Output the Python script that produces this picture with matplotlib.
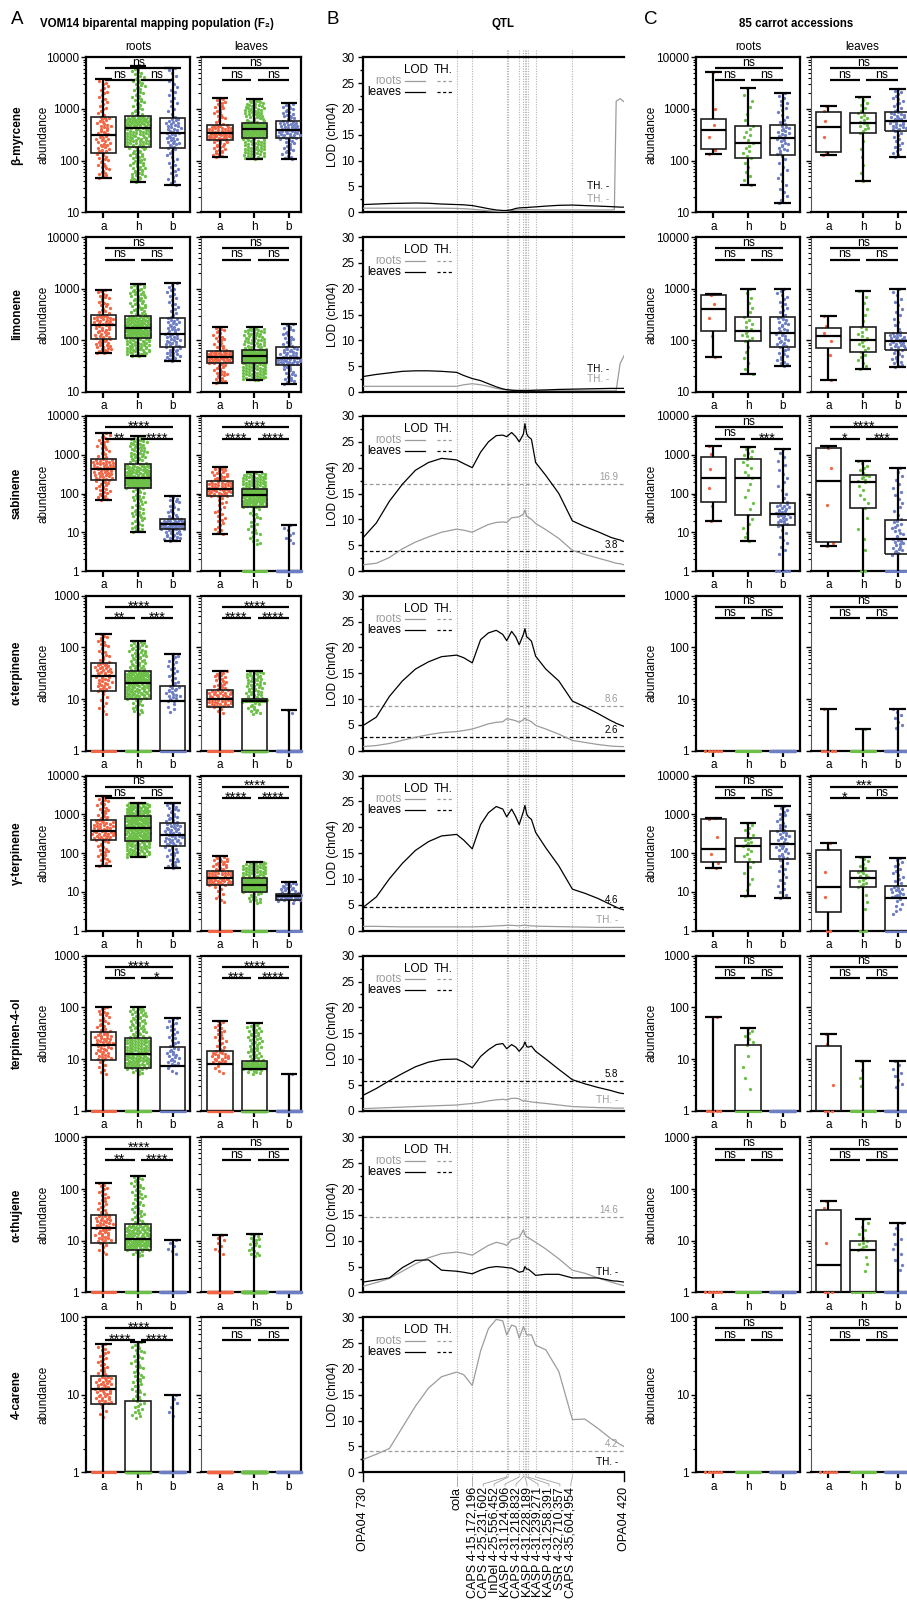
import numpy as np
import matplotlib
matplotlib.use("Agg")
import matplotlib.pyplot as plt
import matplotlib.transforms as mtransforms
from matplotlib.lines import Line2D
from matplotlib.patches import Rectangle
from matplotlib.ticker import LogLocator, FuncFormatter, NullFormatter, MultipleLocator

plt.rcParams['font.family'] = ['Liberation Sans', 'DejaVu Sans']
plt.rcParams['font.size'] = 8.3

# ------------------------------------------------------------------ data
COMPOUNDS = ["β-myrcene", "limonene", "sabinene", "α-terpinene",
             "γ-terpinene", "terpinen-4-ol", "α-thujene", "4-carene"]
GENOTYPES = ["a", "h", "b"]
Y_MIN = [10, 10, 1, 1, 1, 1, 1, 1]
Y_MAX = [10000, 10000, 10000, 1000, 10000, 1000, 1000, 100]
N_F2 = [85, 190, 75]          # group sizes, VOM14 F2
N_ACC = [6, 25, 54]           # group sizes, 85 accessions

# five-number summaries (min, q1, median, q3, max) for genotypes a, h, b
F2_ROOTS = [
    [(47, 140, 310, 710, 3800), (39, 185, 420, 720, 6800), (34, 175, 350, 660, 6300)],
    [(56, 104, 200, 315, 940), (50, 110, 172, 290, 1230), (40, 74, 134, 275, 1290)],
    [(70, 220, 430, 760, 3550), (10, 140, 245, 570, 3100), (6, 12, 16, 22, 85)],
    [(1, 14, 28, 50, 180), (1, 10, 20, 35, 130), (1, 1, 9, 18, 75)],
    [(45, 220, 380, 700, 2900), (80, 210, 430, 900, 2000), (40, 150, 300, 600, 2000)],
    [(1, 9.6, 19, 33, 102), (1, 6.6, 12.5, 26, 100), (1, 1, 7.4, 17, 63)],
    [(1, 9.2, 18, 32, 130), (1, 6.6, 11, 21, 178), (1, 1, 1, 1, 10.3)],
    [(1, 7.6, 11.8, 17.5, 45), (1, 1, 1, 8.2, 48), (1, 1, 1, 1, 10)],
]
F2_LEAVES = [
    [(118, 250, 340, 490, 1650), (108, 280, 415, 530, 1550), (108, 270, 390, 590, 1300)],
    [(15, 36, 47, 63, 185), (17, 36, 49, 66, 180), (14, 34, 45, 74, 205)],
    [(9, 85, 130, 210, 490), (1, 45, 90, 130, 350), (1, 1, 1, 1, 15)],
    [(1, 7, 10, 15, 35), (1, 1, 9, 10, 35), (1, 1, 1, 1, 6)],
    [(1, 15, 22, 35, 85), (1, 10, 15, 22, 60), (1, 6, 8, 9, 18)],
    [(1, 1, 8, 14, 55), (1, 1, 6.3, 9, 49), (1, 1, 1, 1, 5.1)],
    [(1, 1, 1, 1, 13), (1, 1, 1, 1, 13.5), (1, 1, 1, 1, 1)],
    [(1, 1, 1, 1, 1), (1, 1, 1, 1, 1), (1, 1, 1, 1, 1)],
]
ACC_ROOTS = [
    [(135, 170, 400, 650, 5200), (34, 110, 220, 460, 2500), (15, 130, 270, 490, 2000)],
    [(48, 150, 400, 750, 800), (22, 95, 150, 280, 1000), (32, 75, 140, 280, 1000)],
    [(20, 60, 250, 900, 1700), (5.8, 28, 250, 800, 1600), (1, 15, 29, 56, 1400)],
    [(1, 1, 1, 1, 1), (1, 1, 1, 1, 1), (1, 1, 1, 1, 1)],
    [(40, 60, 130, 750, 800), (8, 60, 150, 250, 600), (7, 70, 170, 380, 1600)],
    [(1, 1, 1, 1, 65), (1, 1, 1, 19, 40), (1, 1, 1, 1, 1)],
    [(1, 1, 1, 1, 1), (1, 1, 1, 1, 1), (1, 1, 1, 1, 1)],
    [(1, 1, 1, 1, 1), (1, 1, 1, 1, 1), (1, 1, 1, 1, 1)],
]
ACC_LEAVES = [
    [(130, 150, 450, 870, 1150), (40, 350, 530, 820, 1700), (115, 380, 580, 880, 2450)],
    [(17, 70, 120, 170, 300), (28, 60, 100, 180, 900), (30, 65, 95, 140, 1000)],
    [(4.5, 5.7, 210, 1500, 1700), (1, 43, 200, 300, 700), (1, 2.7, 6.6, 21, 450)],
    [(1, 1, 1, 1, 6.4), (1, 1, 1, 1, 2.6), (1, 1, 1, 1, 6.4)],
    [(1, 3, 13, 120, 180), (1, 13, 22, 35, 80), (1, 1, 7, 14, 75)],
    [(1, 1, 1, 18, 30), (1, 1, 1, 1, 9), (1, 1, 1, 1, 9)],
    [(1, 1, 3.4, 40, 59), (1, 1, 6.6, 9.8, 26), (1, 1, 1, 1, 22)],
    [(1, 1, 1, 1, 1), (1, 1, 1, 1, 1), (1, 1, 1, 1, 1)],
]
# significance labels: (a vs b, a vs h, h vs b)
NS3 = ("ns", "ns", "ns")
SIG_F2_ROOTS = [NS3, NS3, ("****", "**", "****"), ("****", "**", "***"), NS3,
                ("****", "ns", "*"), ("****", "**", "****"), ("****", "****", "****")]
SIG_F2_LEAVES = [NS3, NS3, ("****", "****", "****"), ("****", "****", "****"),
                 ("****", "****", "****"), ("****", "***", "****"), NS3, NS3]
SIG_ACC_ROOTS = [NS3, NS3, ("ns", "ns", "***"), NS3, NS3, NS3, NS3, NS3]
SIG_ACC_LEAVES = [NS3, NS3, ("****", "*", "***"), NS3, ("***", "*", "ns"), NS3, NS3, NS3]

# QTL: map position (% of chr04 linkage group) and LOD profiles
MAP_POS = [0, 5, 10, 15, 20, 25, 30, 35.8, 38.5, 41.8, 45, 48, 51, 53.5, 55.0, 56.9,
           58.5, 59.8, 61.4, 62.0, 62.7, 63.3, 64.5, 66.1, 70, 75, 80.2, 85, 90, 95,
           96.3, 97, 98.5, 100]
LOD_ROOTS = [
    [0.8, 0.8, 0.8, 0.8, 0.8, 0.8, 0.8, 0.75, 0.7, 0.6, 0.45, 0.3, 0.2, 0.15, 0.2, 0.35,
     0.45, 0.5, 0.5, 0.5, 0.5, 0.5, 0.5, 0.5, 0.45, 0.45, 0.45, 0.45, 0.45, 0.45,
     0.5, 21.5, 22.0, 21.4],
    [1.1, 1.1, 1.1, 1.1, 1.1, 1.1, 1.1, 1.1, 1.4, 1.6, 1.4, 1.1, 0.7, 0.5, 0.4, 0.35,
     0.3, 0.3, 0.3, 0.3, 0.3, 0.3, 0.3, 0.3, 0.3, 0.3, 0.3, 0.3, 0.3, 0.3,
     0.3, 0.3, 5.5, 7.0],
    [1.2, 1.5, 2.6, 4.3, 5.6, 6.6, 7.5, 8.1, 7.9, 7.5, 8.3, 9.0, 9.4, 9.5, 9.4, 10.3,
     10.4, 10.5, 11.0, 11.8, 10.6, 10.4, 10.0, 9.2, 8.0, 6.3, 4.0, 3.2, 2.5, 1.8,
     1.6, 1.5, 1.4, 1.2],
    [0.8, 1.0, 1.4, 2.0, 2.6, 3.1, 3.5, 3.7, 3.9, 4.2, 4.7, 5.2, 5.5, 5.6, 6.2, 6.0,
     5.8, 5.5, 6.0, 6.3, 6.0, 5.9, 5.6, 4.9, 4.2, 3.2, 2.0, 1.6, 1.2, 0.9,
     0.85, 0.85, 0.8, 0.8],
    [0.8, 0.8, 0.75, 0.7, 0.7, 0.7, 0.7, 0.7, 0.7, 0.7, 0.75, 0.8, 0.9, 0.95, 1.0, 1.0,
     0.95, 0.9, 1.0, 1.05, 0.95, 0.95, 0.9, 0.85, 0.8, 0.75, 0.7, 0.65, 0.6, 0.6,
     0.6, 0.6, 0.6, 0.6],
    [0.4, 0.5, 0.6, 0.7, 0.8, 0.9, 1.0, 1.1, 1.25, 1.4, 1.6, 1.9, 2.1, 2.2, 2.1, 2.4,
     2.4, 2.3, 1.8, 2.0, 1.85, 1.8, 1.7, 1.6, 1.4, 1.1, 0.8, 0.7, 0.6, 0.55,
     0.5, 0.5, 0.5, 0.5],
    [1.2, 1.9, 2.7, 4.1, 5.5, 6.7, 7.5, 7.8, 7.6, 7.2, 8.2, 9.1, 9.7, 9.4, 9.1, 10.2,
     10.4, 10.6, 12.1, 11.2, 10.7, 10.6, 10.2, 9.7, 8.4, 6.5, 4.3, 3.7, 2.8, 2.0,
     1.8, 1.7, 1.5, 1.3],
    [2.5, 3.5, 4.6, 8.7, 12.8, 16.3, 18.5, 19.4, 18.9, 16.8, 23.5, 27.8, 29.6, 29.3, 26.6, 28.5,
     28.2, 26.0, 28.2, 27.5, 26.6, 26.6, 26.6, 24.6, 23.7, 19.5, 10.2, 10.3, 8.5, 6.5,
     6.1, 5.9, 5.4, 5.0],
]
LOD_LEAVES = [
    [1.5, 1.6, 1.7, 1.75, 1.8, 1.75, 1.6, 1.5, 1.45, 1.3, 1.0, 0.7, 0.45, 0.35, 0.35, 0.5,
     0.75, 0.85, 0.9, 0.9, 0.9, 0.95, 1.0, 1.05, 1.2, 1.35, 1.4, 1.3, 1.2, 1.1,
     1.05, 1.05, 1.0, 1.0],
    [3.0, 3.4, 3.7, 4.0, 4.1, 4.1, 4.0, 3.8, 3.2, 2.6, 2.2, 1.6, 1.0, 0.6, 0.45, 0.35,
     0.3, 0.3, 0.3, 0.3, 0.3, 0.3, 0.32, 0.35, 0.4, 0.5, 0.55, 0.6, 0.65, 0.7,
     0.7, 0.7, 0.7, 0.7],
    [6.5, 9.3, 13.5, 16.8, 19.5, 21.0, 21.8, 21.5, 20.8, 20.0, 23.0, 25.0, 26.2, 26.3, 26.0, 26.8,
     26.0, 25.0, 26.5, 28.5, 26.5, 26.0, 25.5, 21.0, 18.5, 15.0, 9.7, 8.6, 7.6, 6.5,
     6.3, 6.2, 6.0, 5.7],
    [4.9, 6.5, 10.5, 13.5, 15.8, 17.2, 18.2, 18.5, 18.0, 17.0, 21.5, 22.8, 23.3, 22.5, 21.3, 23.1,
     22.0, 20.5, 22.5, 23.6, 22.0, 21.8, 21.2, 18.3, 15.8, 13.5, 9.6, 8.5, 7.2, 5.8,
     5.5, 5.3, 5.0, 4.7],
    [4.5, 6.5, 10.0, 13.0, 15.5, 17.2, 18.3, 18.6, 17.5, 15.8, 20.5, 22.8, 24.0, 23.5, 22.0, 23.5,
     22.0, 20.5, 23.0, 24.2, 22.5, 22.0, 21.5, 19.0, 16.0, 12.5, 8.0, 7.2, 6.2, 5.0,
     4.7, 4.5, 4.2, 4.0],
    [3.0, 4.3, 5.8, 7.2, 8.5, 9.4, 9.9, 10.0, 9.4, 8.3, 10.5, 11.8, 12.8, 13.0, 12.0, 12.8,
     12.3, 11.5, 12.5, 13.3, 12.4, 12.3, 12.5, 11.5, 10.0, 8.0, 6.0, 5.2, 4.5, 3.9,
     3.7, 3.6, 3.4, 3.3],
    [2.0, 2.4, 2.8, 4.8, 6.2, 6.3, 4.3, 4.1, 3.9, 3.6, 4.3, 4.8, 5.0, 4.9, 4.8, 4.7,
     4.3, 3.9, 4.1, 5.0, 4.5, 4.5, 4.0, 3.3, 3.5, 3.5, 2.8, 2.8, 2.8, 2.3,
     2.2, 2.2, 2.1, 2.0],
    None,
]
TH_ROOTS = [None, None, 16.9, 8.6, None, None, 14.6, 4.2]
TH_LEAVES = [None, None, 3.8, 2.6, 4.6, 5.8, None, None]

MARKERS = ["OPA04 730", "cola", "CAPS 4-15,172,196", "CAPS 4-25,231,602",
           "InDel 4-25,556,452", "KASP 4-31,124,906", "CAPS 4-31,218,832",
           "KASP 4-31,228,189", "KASP 4-31,239,271", "KASP 4-31,258,391",
           "SSR 4-32,710,357", "CAPS 4-35,604,954", "OPA04 420"]
MARKER_POS = [0, 35.8, 41.8, 55.0, 55.6, 59.8, 61.4, 62.0, 62.6, 63.3, 66.1, 80.2, 100]

# ------------------------------------------------------------------ style / layout
COLORS = ['#F26545', '#6CBF47', '#6D7EC4']
GRAY = '#9c9c9c'
W, H = 907, 1605
ROW_TOP = [57.3, 237.0, 416.0, 595.7, 775.5, 955.7, 1137.4, 1317.3]
PANEL_H = 155.0

fig = plt.figure(figsize=(W / 100, H / 100), dpi=100)


def add_ax(left, top, width, height=PANEL_H):
    return fig.add_axes([left / W, 1 - (top + height) / H, width / W, height / H])


def ftxt(x, y, s, **kw):
    fig.text(x / W, 1 - y / H, s, **kw)


def group_points(stats, n, floor):
    p = np.linspace(0, 1, n)
    lv = np.interp(p, [0, .25, .5, .75, 1], np.log10(stats))
    v = 10 ** lv
    if stats[0] <= 1:
        v[v < floor] = 1.0
    return v


def swarm(vals, ppd, unit_px=34.5, dot=3.2, maxhw=0.36):
    y = np.log10(vals) * ppd
    b = np.floor(y / dot).astype(int)
    off = np.zeros(len(vals))
    for bb in np.unique(b):
        idx = np.where(b == bb)[0]
        k = len(idx)
        sp = min(dot / unit_px, 2 * maxhw / k)
        o = (np.arange(k) - (k - 1) / 2) * sp
        perm = np.argsort((np.arange(k) * 0.618) % 1)
        free = max(0.0, 2 * maxhw - k * sp) * 0.45
        if bb > 0:
            o = o + ((bb * 0.618034) % 1 - 0.5) * free
        off[idx] = o[perm]
    return off


def draw_group(ax, x, st, ymin):
    lo, q1, med, q3, hi = st
    lk = dict(color='black', lw=1.6, solid_capstyle='butt', zorder=4)
    if q3 > q1:
        ax.add_patch(Rectangle((x - 0.365, q1), 0.73, q3 - q1, fill=False,
                               ec='#1f1f1f', lw=1.2, zorder=4))
    if med > ymin * 1.001:
        ax.plot([x - 0.365, x + 0.365], [med, med], **lk)
    if hi > q3:
        ax.plot([x, x], [q3, hi], **lk)
        ax.plot([x - 0.24, x + 0.24], [hi, hi], **lk)
    if q1 > lo:
        ax.plot([x, x], [lo, q1], **lk)
        if lo > ymin * 1.001:
            ax.plot([x - 0.24, x + 0.24], [lo, lo], **lk)


def draw_sig(ax, sig):
    tr = ax.get_xaxis_transform()
    spec = [(0.05, 2.0, 0.928, sig[0]), (0.05, 0.9, 0.853, sig[1]), (1.1, 2.0, 0.853, sig[2])]
    for x0, x1, yf, lab in spec:
        ax.plot([x0, x1], [yf, yf], transform=tr, color='black', lw=1.6,
                solid_capstyle='butt', clip_on=False, zorder=5)
        if lab == 'ns':
            ax.text((x0 + x1) / 2, yf + 2.5 / PANEL_H, lab, transform=tr, ha='center',
                    va='baseline', fontsize=8.8, zorder=6)
        else:
            ax.text((x0 + x1) / 2, yf - 3.5 / PANEL_H, lab, transform=tr, ha='center',
                    va='baseline', fontsize=10.5, zorder=6)


def box_panel(left, width, xlim, r, stats, sig, counts, floor, labels):
    ax = add_ax(left, ROW_TOP[r], width)
    ymin, ymax = Y_MIN[r], Y_MAX[r]
    ax.set_yscale('log')
    ax.set_ylim(ymin, ymax)
    ax.set_xlim(*xlim)
    ppd = PANEL_H / np.log10(ymax / ymin)
    for gi in range(3):
        v = group_points(stats[gi], counts[gi], floor)
        xs = gi + swarm(v, ppd)
        ax.scatter(xs, v, s=5.5, color=COLORS[gi], lw=0, zorder=3, clip_on=False)
        draw_group(ax, gi, stats[gi], ymin)
    draw_sig(ax, sig)
    ax.set_xticks([0, 1, 2])
    ax.set_xticklabels(GENOTYPES)
    ax.tick_params(axis='x', length=4, width=1.6, pad=2, labelsize=8.5)
    ax.yaxis.set_major_locator(LogLocator(base=10, numticks=10))
    ax.yaxis.set_minor_locator(LogLocator(base=10, subs=np.arange(2, 10), numticks=100))
    ax.yaxis.set_minor_formatter(NullFormatter())
    ax.yaxis.set_major_formatter(FuncFormatter(lambda v, p: f"{int(round(v))}"))
    ax.tick_params(axis='y', which='major', length=3.5, width=1.0, pad=1.5, labelsize=8.5)
    ax.tick_params(axis='y', which='minor', length=2, width=0.8)
    for s in ax.spines.values():
        s.set_linewidth(1.6)
    if not labels:
        ax.spines['left'].set_linewidth(0.8)
        ax.spines['left'].set_color('#555555')
        ax.tick_params(axis='y', which='both', labelleft=False)
    return ax


def qtl_panel(r):
    ax = add_ax(363.3, ROW_TOP[r], 260.7)
    ax.patch.set_visible(False)
    ax.set_xlim(0, 100)
    ax.set_ylim(0, 30)
    ax.spines['right'].set_visible(False)
    for k in ('left', 'top', 'bottom'):
        ax.spines[k].set_linewidth(1.6)
    ax.set_xticks([])
    ax.set_yticks(range(0, 31, 5))
    ax.yaxis.set_minor_locator(MultipleLocator(2.5))
    ax.tick_params(axis='y', which='major', length=3.5, width=1.0, pad=3, labelsize=8.5)
    ax.tick_params(axis='y', which='minor', length=2.5, width=1.0)
    if LOD_ROOTS[r] is not None:
        ax.plot(MAP_POS, LOD_ROOTS[r], color=GRAY, lw=0.9, zorder=3)
    if LOD_LEAVES[r] is not None:
        ax.plot(MAP_POS, LOD_LEAVES[r], color='black', lw=0.9, zorder=4)
    bl = mtransforms.blended_transform_factory(ax.transAxes, ax.transData)
    dash = (0, (3, 2))
    for th, col in ((TH_ROOTS[r], GRAY), (TH_LEAVES[r], 'black')):
        if th is not None:
            ax.axhline(th, color=col, lw=0.9, ls=dash, zorder=2)
            ax.text(0.978, th + 0.35, f"{th}", transform=bl, ha='right', va='bottom',
                    fontsize=7, color=col)
    # "TH. -" notes for missing thresholds
    xr = 0.945 if r < 2 else 0.978
    if TH_LEAVES[r] is None:
        yb = {0: 0.17, 1: 0.15, 6: 0.13, 7: 0.065}.get(r, 0.13)
        ax.text(xr, yb, "TH. -", transform=ax.transAxes, ha='right', va='center',
                fontsize=7.2, color='black')
    if TH_ROOTS[r] is None:
        yg = 0.085 if r < 2 else 0.07
        ax.text(xr, yg, "TH. -", transform=ax.transAxes, ha='right', va='center',
                fontsize=7.2, color=GRAY)
    # legend
    ta = ax.transAxes
    ax.text(0.204, 0.916, "LOD", transform=ta, ha='center', va='center', fontsize=8.5)
    ax.text(0.308, 0.916, "TH.", transform=ta, ha='center', va='center', fontsize=8.5)
    for yy, col, lab in ((0.847, GRAY, "roots"), (0.776, 'black', "leaves")):
        ax.text(0.147, yy, lab, transform=ta, ha='right', va='center', fontsize=8.5, color=col)
        ax.plot([0.160, 0.237], [yy, yy], transform=ta, color=col, lw=0.9)
        ax.plot([0.282, 0.339], [yy, yy], transform=ta, color=col, lw=0.9, ls=(0, (2.5, 2)))
    return ax


qtl_axes = []
for r in range(8):
    box_panel(86, 104, (-0.5, 2.5), r, F2_ROOTS[r], SIG_F2_ROOTS[r], N_F2, 5, True)
    box_panel(201, 100, (-0.55, 2.35), r, F2_LEAVES[r], SIG_F2_LEAVES[r], N_F2, 5, False)
    qtl_axes.append(qtl_panel(r))
    box_panel(696, 104, (-0.5, 2.5), r, ACC_ROOTS[r], SIG_ACC_ROOTS[r], N_ACC, 2.5, True)
    box_panel(811, 104, (-0.5, 2.5), r, ACC_LEAVES[r], SIG_ACC_LEAVES[r], N_ACC, 2.5, False)
    yc = ROW_TOP[r] + PANEL_H / 2
    ftxt(16.7, yc, COMPOUNDS[r], rotation=90, ha='center', va='center',
         fontsize=8.5, fontweight='bold')
    ftxt(43.3, yc, "abundance", rotation=90, ha='center', va='center', fontsize=8.5)
    ftxt(651.7, yc, "abundance", rotation=90, ha='center', va='center', fontsize=8.5)
    ftxt(333, yc, "LOD (chr04)", rotation=90, ha='center', va='center', fontsize=8.5)

# marker lines through all QTL panels, fan connectors and marker labels
axq = qtl_axes[-1]
blend = mtransforms.blended_transform_factory(axq.transData, fig.transFigure)
fy = lambda px: 1 - px / H
for i, (m, name) in enumerate(zip(MARKER_POS, MARKERS)):
    if 0 < m < 100:
        fig.add_artist(Line2D([m, m], [fy(50), fy(1476)], transform=blend, color='#b3b3b3',
                              lw=0.8, ls=(0, (1, 1.3)), zorder=-1))
    if i < 3 or i == len(MARKERS) - 1:
        lx = m
    else:
        lx = MARKER_POS[2] + (i - 2) * 4.2
    if m in (0, 100):
        fig.add_artist(Line2D([m, m], [fy(1472.5), fy(1481)], transform=blend,
                              color='black', lw=1.0))
    else:
        fig.add_artist(Line2D([m, m, lx, lx], [fy(1476), fy(1477), fy(1484), fy(1486)],
                              transform=blend, color='#a0a0a0', lw=0.6))
    axq.text(lx, fy(1487), name, transform=blend, rotation=90, ha='center', va='top',
             fontsize=9)

# headers
ftxt(17, 19.5, "A", ha='center', va='center', fontsize=13.5)
ftxt(333, 20, "B", ha='center', va='center', fontsize=13.5)
ftxt(651, 20, "C", ha='center', va='center', fontsize=13.5)
ftxt(157, 24, "VOM14 biparental mapping population (F₂)", ha='center', va='center',
     fontsize=8.3, fontweight='bold')
ftxt(503, 24, "QTL", ha='center', va='center', fontsize=8.3, fontweight='bold')
ftxt(796, 24, "85 carrot accessions", ha='center', va='center', fontsize=8.3,
     fontweight='bold')
for x, s in ((138, "roots"), (251, "leaves"), (748, "roots"), (862, "leaves")):
    ftxt(x, 46.7, s, ha='center', va='center', fontsize=8.5)

fig.savefig("out.png", dpi=100)
